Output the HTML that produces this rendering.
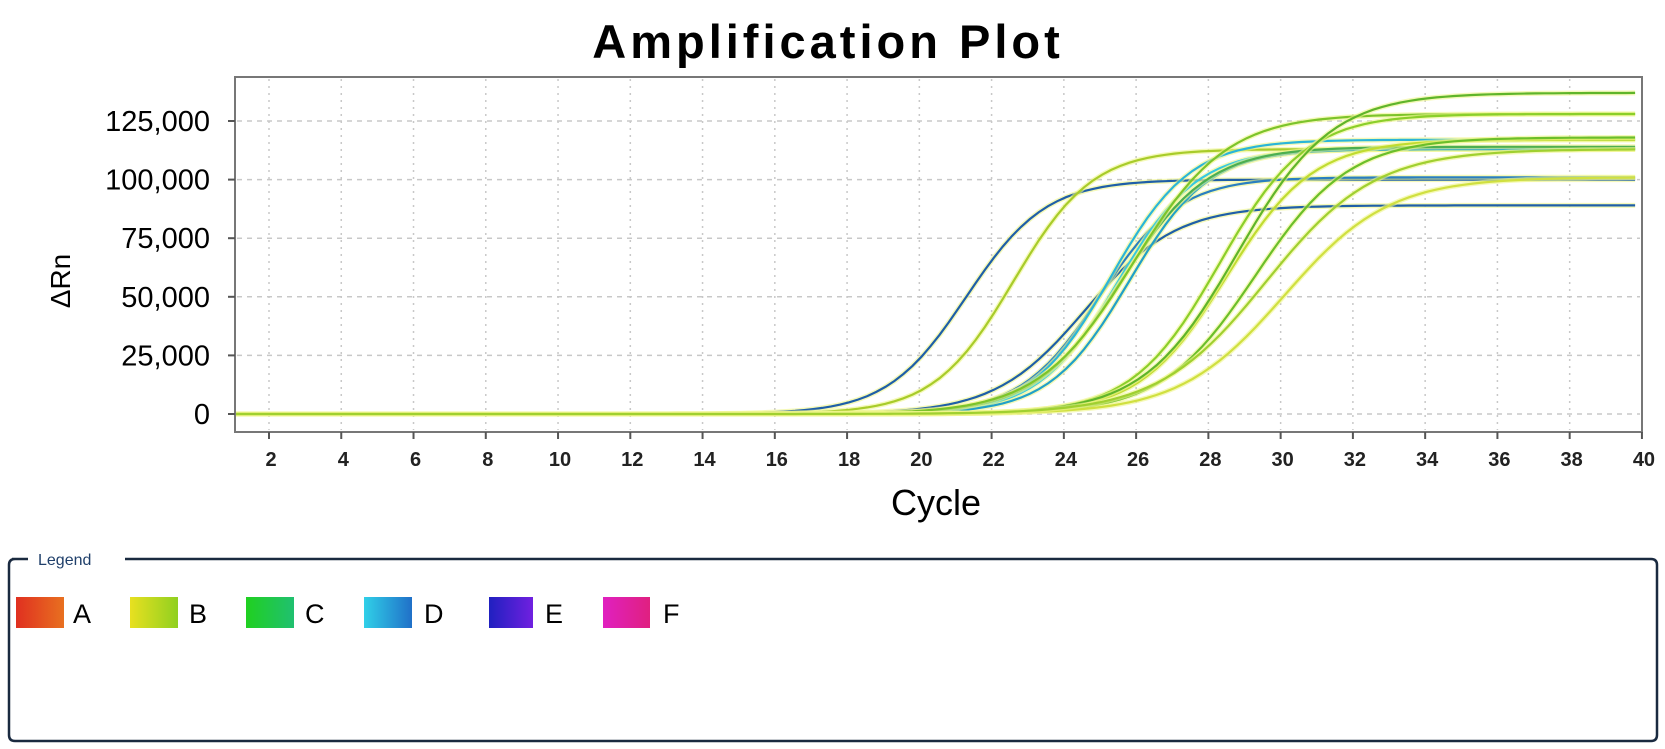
<!DOCTYPE html>
<html><head><meta charset="utf-8"><style>
html,body{margin:0;padding:0;background:#fff;width:1665px;height:749px;overflow:hidden}
svg{display:block}
text{font-family:"Liberation Sans",Arial,sans-serif}
</style></head><body>
<svg id="s" width="1665" height="749" viewBox="0 0 1665 749" xmlns="http://www.w3.org/2000/svg">
<text x="828" y="58" font-size="47" font-weight="bold" text-anchor="middle" letter-spacing="4">Amplification Plot</text>
<g id="grid"></g>
<g id="curves"></g>
<rect x="235" y="77" width="1407" height="355" fill="none" stroke="#777" stroke-width="2"/>
<g id="axes"></g>
<text x="0" y="0" font-size="28" text-anchor="middle" transform="translate(70,281) rotate(-90)">ΔRn</text>
<text x="936" y="515" font-size="36" text-anchor="middle">Cycle</text>
<path d="M12 559 L28 559 M125 559 L1651 559 Q1657 559 1657 565 L1657 735 Q1657 741 1651 741 L15 741 Q9 741 9 735 L9 565 Q9 559 15 559" fill="none" stroke="#1a2a40" stroke-width="2.5"/>
<text x="38" y="565" font-size="16" fill="#1f3f6a">Legend</text>
<defs>
<linearGradient id="gA" x1="0" x2="1"><stop offset="0" stop-color="#e03020"/><stop offset="1" stop-color="#e87020"/></linearGradient>
<linearGradient id="gB" x1="0" x2="1"><stop offset="0" stop-color="#e8e020"/><stop offset="1" stop-color="#90d020"/></linearGradient>
<linearGradient id="gC" x1="0" x2="1"><stop offset="0" stop-color="#20d020"/><stop offset="1" stop-color="#20c070"/></linearGradient>
<linearGradient id="gD" x1="0" x2="1"><stop offset="0" stop-color="#30d0e8"/><stop offset="1" stop-color="#2070c8"/></linearGradient>
<linearGradient id="gE" x1="0" x2="1"><stop offset="0" stop-color="#2020c0"/><stop offset="1" stop-color="#7020e0"/></linearGradient>
<linearGradient id="gF" x1="0" x2="1"><stop offset="0" stop-color="#e020c0"/><stop offset="1" stop-color="#e02080"/></linearGradient>
</defs>
<g font-size="27">
<rect x="16" y="597" width="48" height="31" fill="url(#gA)"/><text x="73" y="623">A</text>
<rect x="130" y="597" width="48" height="31" fill="url(#gB)"/><text x="189" y="623">B</text>
<rect x="246" y="597" width="48" height="31" fill="url(#gC)"/><text x="305" y="623">C</text>
<rect x="364" y="597" width="48" height="31" fill="url(#gD)"/><text x="424" y="623">D</text>
<rect x="489" y="597" width="44" height="31" fill="url(#gE)"/><text x="545" y="623">E</text>
<rect x="603" y="597" width="47" height="31" fill="url(#gF)"/><text x="663" y="623">F</text>
</g>
</svg>
<script>
var NS="http://www.w3.org/2000/svg";
function X(c){return 269+(c-2)*36.13;}
function Y(v){return 414-v/25000*58.6;}
function el(t,a,p){var e=document.createElementNS(NS,t);for(var k in a)e.setAttribute(k,a[k]);if(p)p.appendChild(e);return e;}
var grid=document.getElementById('grid'),axes=document.getElementById('axes'),cur=document.getElementById('curves');
for(var c=2;c<=40;c+=2){var x=X(c);
 if(c<40)el('line',{x1:x,y1:79,x2:x,y2:430,stroke:'#c8c8c8','stroke-width':1.5,'stroke-dasharray':'2,5'},grid);
 el('line',{x1:x,y1:432,x2:x,y2:439,stroke:'#555','stroke-width':2},axes);
 var t=el('text',{x:x+2,y:466,'font-size':20,'font-weight':'bold','text-anchor':'middle',fill:'#222'},axes);t.textContent=c;}
var labs=['0','25,000','50,000','75,000','100,000','125,000'];
for(var i=0;i<6;i++){var y=Y(i*25000);
 el('line',{x1:237,y1:y,x2:1640,y2:y,stroke:'#c8c8c8','stroke-width':1.5,'stroke-dasharray':'5,5'},grid);
 el('line',{x1:228,y1:y,x2:235,y2:y,stroke:'#555','stroke-width':2},axes);
 var t=el('text',{x:210,y:y+10,'font-size':29,'text-anchor':'end'},axes);t.textContent=labs[i];}
var C=[
[21.3,1.1,100000,'#1f5fa8'],[22.6,1.1,113000,'#a8cc2a'],[24.6,1.25,89000,'#1f5fa8'],
[25.0,1.1,101000,'#2a7fc0'],[25.3,1.1,117000,'#2bb5d8'],[25.5,1.1,113000,'#35c8e0'],
[25.8,1.1,113000,'#22a0c8'],[25.6,1.2,114000,'#4caf50'],[25.9,1.3,128000,'#7cc42a'],
[28.3,1.2,128000,'#8bcf2a'],[28.5,1.2,117000,'#c0dc30'],[28.8,1.3,137000,'#5fb52a'],
[29.3,1.3,118000,'#6bbf2a'],[30.1,1.45,101000,'#d0e040'],[29.6,1.5,113000,'#a0d030']];
C.forEach(function(p){var d='';
 for(var c=1.06;c<=40.001;c+=0.25){var v=p[2]/(1+Math.exp(-(c-p[0])/p[1]));
  d+=(d?'L':'M')+X(c).toFixed(1)+' '+Y(v).toFixed(1);}
 el('path',{d:d,fill:'none',stroke:'#eef58a','stroke-width':5,'stroke-opacity':0.6},cur);
 el('path',{d:d,fill:'none',stroke:p[3],'stroke-width':2.2},cur);});
</script>
</body></html>
